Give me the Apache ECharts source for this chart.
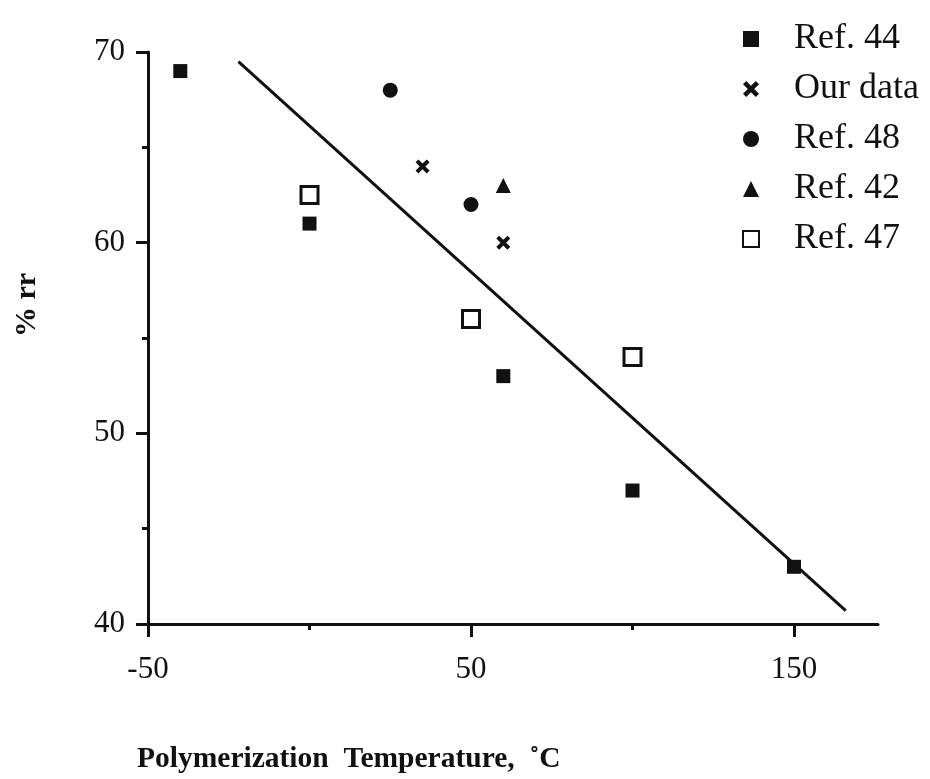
<!DOCTYPE html>
<html>
<head>
<meta charset="utf-8">
<script src="https://cdn.jsdelivr.net/npm/echarts@6/dist/echarts.min.js"></script>
<style>html,body{margin:0;padding:0;background:#fff}#c{width:930px;height:779px}</style>
</head>
<body>
<div id="c"></div>
<script>
// Data
var ref44 = [[-40, 69], [0, 61], [60, 53], [100, 47], [150, 43]];
var ourData = [[35, 64], [60, 60]];
var ref48 = [[25, 68], [50, 62]];
var ref42 = [[60, 63]];
var ref47 = [[0, 62.5], [50, 56], [100, 54]];
var trendLine = [[-22, 69.5], [166, 40.7]];
var xMajorTicks = [-50, 50, 150];
var xMinorTicks = [0, 100];
var seriesNames = ['Ref. 44', 'Our data', 'Ref. 48', 'Ref. 42', 'Ref. 47'];

var serif = "'Liberation Serif', 'DejaVu Serif', serif";
var xPath = 'path://M0,2 L2,0 L5,3 L8,0 L10,2 L7,5 L10,8 L8,10 L5,7 L2,10 L0,8 L3,5 Z';

var chart = echarts.init(document.getElementById('c'), null, {renderer: 'canvas'});
var option = {
  backgroundColor: '#fff',
  animation: false,
  grid: {left: 148, right: 52, top: 52, bottom: 155, containLabel: false},
  legend: {
    data: seriesNames,
    orient: 'vertical',
    left: 737,
    top: 9,
    itemGap: 0,
    itemWidth: 16,
    itemHeight: 16,
    textStyle: {fontFamily: serif, fontSize: 36, color: '#111', lineHeight: 50, padding: [0, 0, 0, 30]},
    selectedMode: false
  },
  xAxis: [{
    type: 'value', min: -50, max: 176, interval: 100,
    axisLine: {show: true, onZero: false, lineStyle: {color: '#111', width: 3}},
    axisTick: {show: true, inside: false, length: 13, lineStyle: {color: '#111', width: 3}, customValues: xMajorTicks},
    axisLabel: {show: true, customValues: xMajorTicks, fontFamily: serif, fontSize: 31, color: '#111', margin: 30},
    splitLine: {show: false}
  }, {
    type: 'value', min: -50, max: 176, position: 'bottom',
    axisLine: {show: false},
    axisTick: {show: true, inside: false, length: 6, lineStyle: {color: '#111', width: 3}, customValues: xMinorTicks},
    axisLabel: {show: false},
    splitLine: {show: false}
  }],
  yAxis: {
    type: 'value', min: 40, max: 70, interval: 10,
    axisLine: {show: true, onZero: false, lineStyle: {color: '#111', width: 3}},
    axisTick: {show: true, inside: false, length: 12, lineStyle: {color: '#111', width: 3}},
    minorTick: {show: true, splitNumber: 2, length: 6, lineStyle: {color: '#111', width: 3}},
    axisLabel: {fontFamily: serif, fontSize: 31, color: '#111', margin: 23},
    splitLine: {show: false}
  },
  graphic: [{
    type: 'text', left: 137, top: 744, z: 10,
    style: {text: 'Polymerization  Temperature,  \u02DAC', font: "bold 29.5px 'Liberation Serif', serif", fill: '#111'}
  }, {
    type: 'text', x: 27, y: 305, rotation: Math.PI / 2, z: 10,
    style: {text: '% rr', font: "bold 30px 'Liberation Serif', serif", fill: '#111', align: 'center', verticalAlign: 'middle'}
  }],
  series: [{
    name: 'trend', type: 'line', data: trendLine, showSymbol: false, symbol: 'none',
    lineStyle: {color: '#111', width: 3}, silent: true, z: 1
  }, {
    name: 'Ref. 44', type: 'scatter', data: ref44, symbol: 'rect', symbolSize: 14,
    itemStyle: {color: '#111', opacity: 1}
  }, {
    name: 'Our data', type: 'scatter', data: ourData, symbol: xPath, symbolSize: 14,
    itemStyle: {color: '#111', opacity: 1}
  }, {
    name: 'Ref. 48', type: 'scatter', data: ref48, symbol: 'circle', symbolSize: 15,
    itemStyle: {color: '#111', opacity: 1}
  }, {
    name: 'Ref. 42', type: 'scatter', data: ref42, symbol: 'triangle', symbolSize: 15,
    itemStyle: {color: '#111', opacity: 1}
  }, {
    name: 'Ref. 47', type: 'scatter', data: ref47, symbol: 'rect', symbolSize: 17,
    itemStyle: {color: '#fff', borderColor: '#111', borderWidth: 3, opacity: 1}
  }]
};
chart.setOption(option);
</script>
</body>
</html>
